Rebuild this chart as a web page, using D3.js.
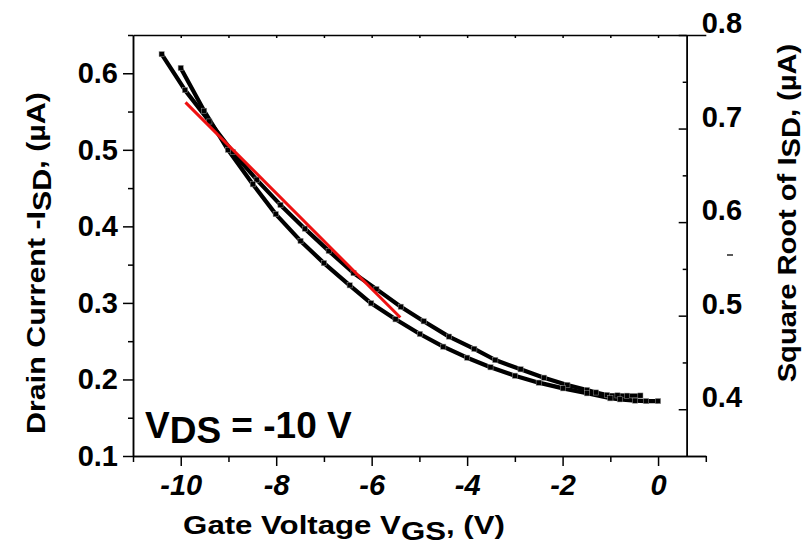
<!DOCTYPE html>
<html>
<head>
<meta charset="utf-8">
<script src="https://cdn.jsdelivr.net/npm/d3@7"></script>
<style>
  html, body { margin: 0; padding: 0; background: #fff; }
  svg { display: block; }
  text { font-family: "Liberation Sans", Arial, sans-serif; font-weight: bold; fill: #000; }
</style>
</head>
<body>
<svg id="chart" width="808" height="549"></svg>
<script>
// ---- data ----
const sweepA_x = [-10.40, -9.91, -9.40, -8.91, -8.41, -7.91, -7.40, -6.90, -6.38, -5.90, -5.39, -4.91, -4.38, -3.85, -3.41, -2.88, -2.39, -1.90, -1.49, -1.30, -1.07, -0.85, -0.65, -0.37];
const sweepA_i = [0.625, 0.578, 0.537, 0.497, 0.461, 0.428, 0.397, 0.368, 0.339, 0.318, 0.295, 0.276, 0.256, 0.240, 0.2254, 0.2133, 0.2023, 0.1928, 0.1862, 0.1830, 0.1797, 0.1792, 0.1788, 0.1790];
const sweepB_x = [-10.00, -9.51, -9.01, -8.49, -8.01, -7.49, -7.00, -6.46, -6.01, -5.50, -4.99, -4.50, -4.00, -3.51, -3.00, -2.50, -1.99, -1.49, -1.00, -0.80, -0.48, -0.25, 0.00];
const sweepB_i = [0.607, 0.551, 0.500, 0.455, 0.416, 0.381, 0.352, 0.323, 0.2995, 0.2786, 0.2594, 0.2428, 0.2284, 0.2159, 0.2049, 0.1958, 0.1884, 0.1819, 0.1754, 0.1740, 0.1723, 0.1718, 0.1718];
const fit_x = [-9.9, -5.4];
const fit_sqrt = [0.728, 0.498];

const xMajorTicks = [-10, -8, -6, -4, -2, 0];
const xMinorTicks = [-11, -9, -7, -5, -3, -1, 1];
const xTopTicks = [-10, -9, -8, -7, -6, -5, -4, -3, -2, -1, 0];
const yLeftMajor = [0.1, 0.2, 0.3, 0.4, 0.5, 0.6];
const yLeftMinor = [0.15, 0.25, 0.35, 0.45, 0.55, 0.65];
const yRightMajor = [0.4, 0.5, 0.6, 0.7, 0.8];
const yRightMinor = [0.45, 0.55, 0.65, 0.75];

const xTitle = ["Gate Voltage V", "GS", ", (V)"];
const yLeftTitle = ["Drain Current -I", "SD", ", (\u00B5A)"];
const yRightTitle = ["Square Root of I", "SD", ", (\u00B5A)"];
const annot = ["V", "DS", " = -10 V"];

// ---- scales ----
const svg = d3.select("#chart");
const x = d3.scaleLinear().domain([-11, 0.6]).range([133, 686.7]);
const xFrame = d3.scaleLinear().domain([-11, 1]).range([x(-11), x(1)]);
const yL = d3.scaleLinear().domain([0.1, 0.65]).range([456, 35]);
const yR = d3.scaleLinear().domain([0.35, 0.8]).range([456, 35]);

const fmt1 = d3.format(".1f");
const fmtX = d => d3.format("d")(d).replace("\u2212", "-");

function styleAxis(g) {
  g.selectAll("path.domain").attr("stroke", "#000").attr("stroke-width", 1.5);
  g.selectAll(".tick line").attr("stroke", "#000").attr("stroke-width", 1.5);
  g.attr("font-family", null).attr("font-size", null);
}

// bottom axis
const gB = svg.append("g").attr("transform", `translate(0,${yL(0.1)})`)
  .call(d3.axisBottom(xFrame).tickValues(xMajorTicks).tickSize(10).tickSizeOuter(0).tickPadding(6).tickFormat(fmtX));
gB.call(styleAxis);
gB.selectAll("text").attr("font-size", 29).attr("font-style", "italic").attr("dy", "0.8em");
const gBm = svg.append("g").attr("transform", `translate(0,${yL(0.1)})`)
  .call(d3.axisBottom(xFrame).tickValues(xMinorTicks).tickSize(6).tickSizeOuter(0).tickFormat(""));
gBm.call(styleAxis);

// top axis
const gT = svg.append("g").attr("transform", `translate(0,${yL(0.65)})`)
  .call(d3.axisTop(xFrame).tickValues(xTopTicks).tickSize(-3).tickSizeOuter(0).tickFormat(""));
gT.call(styleAxis);

// left axis
const gL = svg.append("g").attr("transform", `translate(${x(-11)},0)`)
  .call(d3.axisLeft(yL).tickValues(yLeftMajor).tickSize(10).tickSizeOuter(0).tickPadding(5).tickFormat(fmt1));
gL.call(styleAxis);
gL.selectAll("text").attr("font-size", 29);
const gLm = svg.append("g").attr("transform", `translate(${x(-11)},0)`)
  .call(d3.axisLeft(yL).tickValues(yLeftMinor).tickSize(5).tickSizeOuter(0).tickFormat(""));
gLm.call(styleAxis);

// right axis
const gR = svg.append("g").attr("transform", `translate(${x(0.6)},0)`)
  .call(d3.axisRight(yR).tickValues(yRightMajor).tickSize(-8).tickSizeOuter(0).tickPadding(15).tickFormat(fmt1));
gR.call(styleAxis);
gR.selectAll("text").attr("font-size", 29).attr("dy", "0.35em").attr("y", -12.5);
const gRm = svg.append("g").attr("transform", `translate(${x(0.6)},0)`)
  .call(d3.axisRight(yR).tickValues(yRightMinor).tickSize(-4).tickSizeOuter(0).tickFormat(""));
gRm.call(styleAxis);

// ---- data lines ----
const line = d3.line().x(d => x(d[0])).y(d => yL(d[1]));
const A = sweepA_x.map((v, i) => [v, sweepA_i[i]]);
const B = sweepB_x.map((v, i) => [v, sweepB_i[i]]);
[A, B].forEach(s => {
  svg.append("path").datum(s).attr("d", line)
    .attr("fill", "none").attr("stroke", "#000").attr("stroke-width", 4.2).attr("stroke-linejoin", "round");
});
[A, B].forEach(s => {
  svg.append("g").selectAll("rect").data(s).join("rect")
    .attr("x", d => x(d[0]) - 2.6).attr("y", d => yL(d[1]) - 2.6)
    .attr("width", 5.2).attr("height", 5.2)
    .attr("fill", "#000").attr("stroke", "#999").attr("stroke-width", 0.5);
});

// red linear fit (against right axis)
const fit = fit_x.map((v, i) => [v, fit_sqrt[i]]);
svg.append("path").datum(fit)
  .attr("d", d3.line().x(d => x(d[0])).y(d => yR(d[1])))
  .attr("fill", "none").attr("stroke", "#ee1111").attr("stroke-width", 3);

// ---- text ----
function subText(parent, parts, size, subShift) {
  const t = parent.append("text").attr("font-size", size);
  t.append("tspan").text(parts[0]);
  t.append("tspan").attr("dy", subShift).text(parts[1]);
  t.append("tspan").attr("dy", -subShift).text(parts[2]);
  return t;
}

subText(svg, xTitle, 26, 6).attr("text-anchor", "middle")
  .attr("transform", "translate(344,534) scale(1.2,1)");
subText(svg, yLeftTitle, 26, 6).attr("text-anchor", "middle")
  .attr("transform", "translate(45,263) rotate(-90) scale(1.17,1)");
subText(svg, yRightTitle, 26, 4).attr("text-anchor", "middle")
  .attr("transform", "translate(796,213) rotate(-90) scale(1.12,1)");
subText(svg, annot, 37, 5).attr("x", 145).attr("y", 438);

// small stray mark near the right title
svg.append("line").attr("x1", 727).attr("x2", 733).attr("y1", 255).attr("y2", 255)
  .attr("stroke", "#000").attr("stroke-width", 1.3);
</script>
</body>
</html>
